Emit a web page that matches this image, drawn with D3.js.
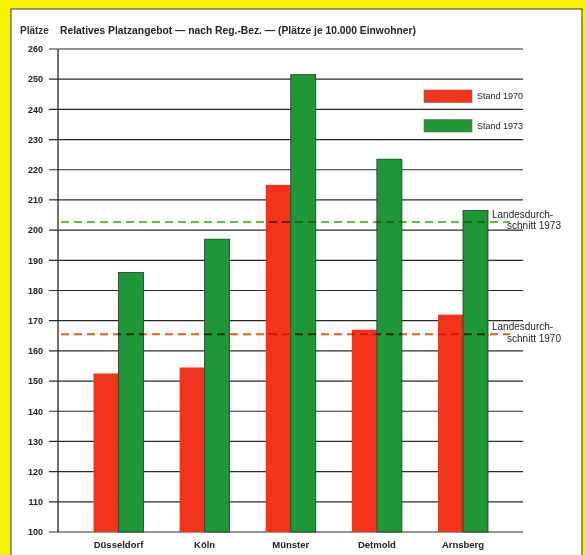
<!DOCTYPE html>
<html><head><meta charset="utf-8">
<script src="https://cdn.jsdelivr.net/npm/d3@7"></script>
<style>
html,body{margin:0;padding:0;background:#f7f300;}
svg{display:block;font-family:"Liberation Sans",Arial,sans-serif;}
</style></head>
<body>
<svg id="chart" width="586" height="555"></svg>
<script>
const categories = ["Düsseldorf", "Köln", "Münster", "Detmold", "Arnsberg"];
const seriesNames = ["Stand 1970", "Stand 1973"];
const values1970 = [152.5, 154.5, 215, 167, 172];
const values1973 = [186, 197, 251.5, 223.5, 206.5];
const averages = [165.5, 202.7];
const averageLabels = [["Landesdurch-", "schnitt 1970"], ["Landesdurch-", "schnitt 1973"]];
const yTicks = [100, 110, 120, 130, 140, 150, 160, 170, 180, 190, 200, 210, 220, 230, 240, 250, 260];
const yUnit = "Plätze";
const title = "Relatives Platzangebot — nach Reg.-Bez. — (Plätze je 10.000 Einwohner)";

const colors = ["#f2341c", "#1f9637"];
const dashColors = ["#ee5a18", "#68bb3a"];

const svg = d3.select("#chart");
// white panel
svg.append("rect").attr("x", 11).attr("y", 9).attr("width", 571).attr("height", 560)
  .attr("fill", "#fff").attr("stroke", "#555").attr("stroke-width", 1.2);

const y = d3.scaleLinear().domain([100, 260]).range([532, 49]);
const x = d3.scalePoint().domain(categories).range([118.5, 463]);
const xs = d3.scaleBand().domain([0, 1]).range([-25, 25]).padding(0);
const gridX0 = 49, gridX1 = 523, axisX = 58;

// gridlines
svg.append("g").selectAll("line").data(yTicks).join("line")
  .attr("x1", gridX0).attr("x2", gridX1)
  .attr("y1", d => y(d)).attr("y2", d => y(d))
  .attr("stroke", "#2a2a2a").attr("stroke-width", 1.2);

// y tick labels
svg.append("g").selectAll("text").data(yTicks).join("text")
  .attr("x", 43).attr("y", d => y(d) + 3.3).attr("text-anchor", "end")
  .attr("font-size", 9).attr("font-weight", "bold").attr("fill", "#222").text(d => d);

// y axis line
svg.append("line").attr("x1", axisX).attr("x2", axisX).attr("y1", y(260)).attr("y2", y(100))
  .attr("stroke", "#222").attr("stroke-width", 1.3);

// bars
const series = [values1970, values1973];
const g = svg.append("g");
series.forEach((vals, si) => {
  g.selectAll(null).data(vals).join("rect")
    .attr("x", (d, i) => x(categories[i]) + xs(si))
    .attr("width", xs.bandwidth())
    .attr("y", d => y(d))
    .attr("height", d => y(100) - y(d))
    .attr("fill", colors[si])
    .attr("stroke", si === 1 ? "#1a3d1a" : "none")
    .attr("stroke-width", 0.8);
});

// average dashed lines
averages.forEach((a, i) => {
  svg.append("line").attr("x1", 61).attr("x2", 510)
    .attr("y1", y(a)).attr("y2", y(a))
    .attr("stroke", dashColors[i]).attr("stroke-width", 2)
    .attr("stroke-dasharray", "8,5")
    .style("mix-blend-mode", "multiply");
  const t = svg.append("text").attr("font-size", 10).attr("fill", "#222");
  t.append("tspan").attr("x", 492).attr("y", y(a) - 4).text(averageLabels[i][0]);
  t.append("tspan").attr("x", 561).attr("text-anchor", "end").attr("y", y(a) + 7.5).text(averageLabels[i][1]);
});

// legend
const legY = [96, 125.5];
seriesNames.forEach((n, i) => {
  svg.append("rect").attr("x", 424).attr("y", legY[i] - 6).attr("width", 48).attr("height", 12.5)
    .attr("fill", colors[i]).attr("stroke", "#6a6a3a").attr("stroke-width", 0.6);
  svg.append("text").attr("x", 477).attr("y", legY[i] + 3.2).attr("font-size", 9)
    .attr("fill", "#222").text(n);
});

// x labels
svg.append("g").selectAll("text").data(categories).join("text")
  .attr("x", d => x(d)).attr("y", 548).attr("text-anchor", "middle")
  .attr("font-size", 9.5).attr("font-weight", "bold").attr("fill", "#222").text(d => d);

// titles
svg.append("text").attr("x", 20).attr("y", 34).attr("font-size", 10).attr("font-weight", "bold")
  .attr("fill", "#333").text(yUnit);
svg.append("text").attr("x", 60).attr("y", 34).attr("font-size", 10.3).attr("font-weight", "bold")
  .attr("fill", "#222").text(title);
</script>
</body></html>
